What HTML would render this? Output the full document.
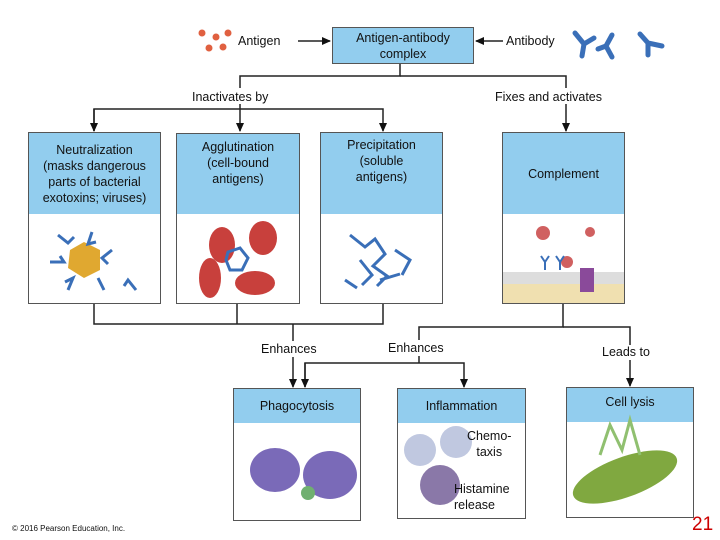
<!DOCTYPE html>
<html><head><style>
body{margin:0;width:720px;height:540px;background:#fff;position:relative;overflow:hidden;font-family:"Liberation Sans",sans-serif;}
.t{position:absolute;font-size:12.5px;color:#111;text-align:center;line-height:16px;}
.box{position:absolute;border:1px solid #555;background:#fff;box-sizing:border-box;}
.hd{background:#92cdee;display:flex;align-items:center;justify-content:center;text-align:center;font-size:12.5px;line-height:16px;color:#111;}
</style></head><body>
<svg width="720" height="540" style="position:absolute;left:0;top:0">
<defs>
<marker id="r" markerWidth="9" markerHeight="8" refX="8" refY="4" orient="auto" markerUnits="userSpaceOnUse"><path d="M0,0 L9,4 L0,8z" fill="#111"/></marker></defs>
<g stroke="#222" stroke-width="1.5" fill="none">
<line x1="298" y1="41" x2="330" y2="41" marker-end="url(#r)"/>
<line x1="503" y1="41" x2="476" y2="41" marker-end="url(#r)"/>
<polyline points="400,63 400,76 240,76 240,88"/>
<polyline points="400,76 566,76 566,88"/>
<line x1="240" y1="104" x2="240" y2="131" marker-end="url(#r)"/>
<polyline points="94,131 94,109 383,109 383,131" marker-end="url(#r)"/>
<line x1="94" y1="109" x2="94" y2="131" marker-end="url(#r)"/>
<line x1="566" y1="104" x2="566" y2="131" marker-end="url(#r)"/>
<polyline points="94,304 94,324 383,324 383,304"/>
<line x1="237" y1="304" x2="237" y2="324"/>
<line x1="293" y1="324" x2="293" y2="341"/>
<line x1="293" y1="357" x2="293" y2="387" marker-end="url(#r)"/>
<polyline points="563,304 563,327 419,327 419,340"/>
<polyline points="563,327 630,327 630,345"/>
<line x1="630" y1="360" x2="630" y2="386" marker-end="url(#r)"/>
<line x1="419" y1="356" x2="419" y2="363"/>
<polyline points="305,387 305,363 464,363 464,387" marker-end="url(#r)"/>
<line x1="305" y1="363" x2="305" y2="387" marker-end="url(#r)"/>
</g>
</svg>
<div class="t" style="left:238px;top:33px;">Antigen</div>
<div class="box hd" style="left:332px;top:27px;width:142px;height:37px;border:1px solid #555;">Antigen-antibody<br>complex</div>
<div class="t" style="left:506px;top:33px;">Antibody</div>
<div class="t" style="left:192px;top:89px;">Inactivates by</div>
<div class="t" style="left:495px;top:89px;">Fixes and activates</div>
<div class="box" style="left:28px;top:132px;width:133px;height:172px;"><div class="hd" style="height:81px;">Neutralization<br>(masks dangerous<br>parts of bacterial<br>exotoxins; viruses)</div></div>
<div class="box" style="left:176px;top:133px;width:124px;height:171px;"><div class="hd" style="height:80px;padding-bottom:22px;box-sizing:border-box;">Agglutination<br>(cell-bound<br>antigens)</div></div>
<div class="box" style="left:320px;top:132px;width:123px;height:172px;"><div class="hd" style="height:81px;padding-bottom:26px;box-sizing:border-box;">Precipitation<br>(soluble<br>antigens)</div></div>
<div class="box" style="left:502px;top:132px;width:123px;height:172px;"><div class="hd" style="height:81px;">Complement</div></div>
<div class="t" style="left:261px;top:341px;">Enhances</div>
<div class="t" style="left:388px;top:340px;">Enhances</div>
<div class="t" style="left:602px;top:344px;">Leads to</div>
<div class="box" style="left:233px;top:388px;width:128px;height:133px;"><div class="hd" style="height:34px;">Phagocytosis</div></div>
<div class="box" style="left:397px;top:388px;width:129px;height:131px;"><div class="hd" style="height:34px;">Inflammation</div></div>
<div class="box" style="left:566px;top:387px;width:128px;height:131px;"><div class="hd" style="height:34px;padding-bottom:6px;box-sizing:border-box;">Cell lysis</div></div>
<svg width="720" height="540" style="position:absolute;left:0;top:0">
<g fill="#e06040"><circle cx="202" cy="33" r="3.5"/><circle cx="216" cy="37" r="3.5"/><circle cx="228" cy="33" r="3.5"/><circle cx="209" cy="48" r="3.5"/><circle cx="223" cy="47" r="3.5"/></g>
<g stroke="#3a6fb8" stroke-width="5" fill="none" stroke-linecap="round">
<path d="M582,56 L584,44 L575,33 M584,44 L594,38"/><path d="M612,57 L606,46 L598,49 M606,46 L612,35"/><path d="M648,55 L648,43 L662,46 M648,43 L640,34"/>
</g>
<polygon points="70,250 84,242 100,250 100,270 84,278 68,268" fill="#e0a830"/>
<g stroke="#3a6fb8" stroke-width="3" fill="none"><path d="M58,235l10,8 6,-6M92,232l-4,12 8,-2M112,250l-10,8 6,6M50,262h14l-4,-6M68,290l5,-12 -8,4M104,290l-6,-12M136,290l-8,-10 -4,6"/></g>
<g fill="#c8403c"><ellipse cx="222" cy="245" rx="13" ry="18"/><ellipse cx="263" cy="238" rx="14" ry="17"/><ellipse cx="210" cy="278" rx="11" ry="20"/><ellipse cx="255" cy="283" rx="20" ry="12"/></g>
<g stroke="#3a6fb8" stroke-width="3" fill="none"><path d="M228,252l12,-4 8,10 -6,12 -12,0 -4,-10z"/></g>
<g stroke="#3a6fb8" stroke-width="3" fill="none"><path d="M350,235l15,12 10,-8 10,15 -12,12 14,10 -10,10 M360,260l12,15 -10,10 M395,250l15,10 -8,15 M380,280l20,-6 M345,280l12,8"/></g>
<rect x="503" y="272" width="121" height="31" fill="#f0e0b0"/><rect x="503" y="272" width="121" height="12" fill="#ddd"/>
<rect x="580" y="268" width="14" height="24" fill="#8a4a9a"/>
<circle cx="543" cy="233" r="7" fill="#d06060"/><circle cx="590" cy="232" r="5" fill="#d06060"/><circle cx="567" cy="262" r="6" fill="#d06060"/>
<g stroke="#3a6fb8" stroke-width="2" fill="none"><path d="M545,270v-8l-4,-6M545,262l4,-6M560,270v-8l-4,-6M560,262l4,-6"/></g>
<ellipse cx="275" cy="470" rx="25" ry="22" fill="#7a6ab8"/><ellipse cx="330" cy="475" rx="27" ry="24" fill="#7a6ab8"/><circle cx="308" cy="493" r="7" fill="#70b070"/>
<circle cx="420" cy="450" r="16" fill="#c0c8e0"/><circle cx="456" cy="442" r="16" fill="#c0c8e0"/><circle cx="440" cy="485" r="20" fill="#8a78a8"/>
<ellipse cx="625" cy="477" rx="55" ry="20" fill="#80a840" transform="rotate(-20 625 477)"/><path d="M600,455l10,-30 12,25 8,-30 10,35" stroke="#90c070" stroke-width="3" fill="none"/>
</svg>
<div class="t" style="left:467px;top:428px;">Chemo-<br>taxis</div>
<div class="t" style="left:454px;top:481px;text-align:left;">Histamine<br>release</div>
<div class="t" style="left:12px;top:521px;font-size:8px;">© 2016 Pearson Education, Inc.</div>
<div class="t" style="left:692px;top:515px;font-size:19px;color:#c00;line-height:20px;">21</div>
</body></html>
